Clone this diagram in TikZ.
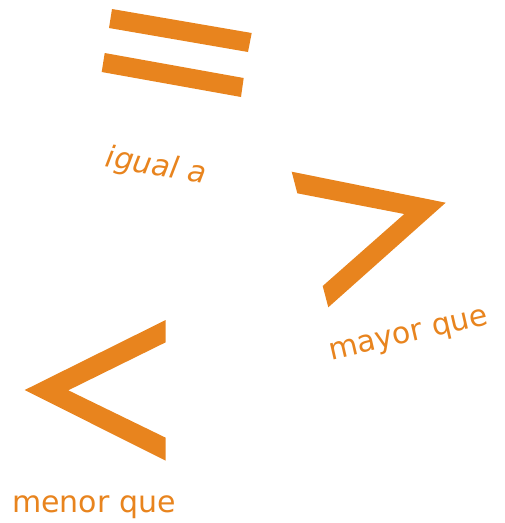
\documentclass[tikz,border=0pt]{standalone}
\usepackage{fontspec}
\setmainfont{DejaVu Sans}
\definecolor{sorange}{HTML}{E8841E}
\begin{document}
\begin{tikzpicture}[x=1pt,y=-1pt,
  sym/.style={fill=sorange,draw=none},
  lbl/.style={text=sorange,font=\fontsize{30}{36}\selectfont,inner sep=0pt}]
\useasboundingbox (0,0) rectangle (505,523);
% equals sign
\fill[sym] (112,9) -- (251.7,33) -- (248,52) -- (109,28) -- cycle;
\fill[sym] (104.7,53) -- (243.7,78) -- (241,97) -- (101.7,72) -- cycle;
% greater than
\fill[sym] (291.7,171.7) -- (445.7,202.7) -- (328.3,307.3) -- (322.7,286) -- (404.3,214) -- (297.3,193.3) -- cycle;
% less than
\fill[sym] (24.7,390) -- (165.7,320) -- (165.7,342.3) -- (68.3,390.3) -- (165.7,437.7) -- (165.7,460.7) -- cycle;
% labels
\node[lbl,rotate=-10] (igual) at (156,167) {\itshape igual a};
\node[lbl,rotate=13] (mayor) at (409,337) {mayor que};
\node[lbl] (menor) at (94,507) {menor que};
\end{tikzpicture}
\end{document}
